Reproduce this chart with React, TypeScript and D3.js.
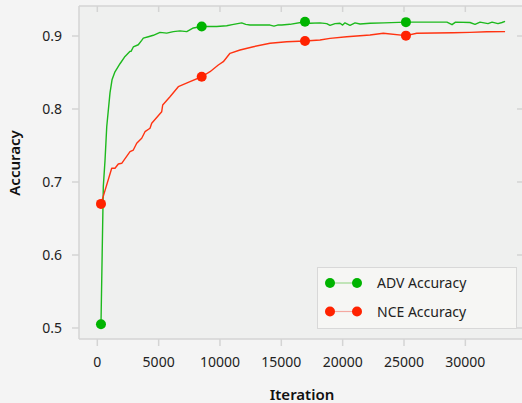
import React from "react";
import * as d3 from "d3";

const advIter = [300, 490, 630, 770, 1035, 1200, 1440, 1850, 2260, 2670, 2750, 2935, 3340, 3620, 3750, 4160, 4570, 5110, 5660, 6200, 6740, 7290, 7830, 8510, 9730, 10550, 11000, 11770, 12100, 12450, 13260, 14080, 14400, 14700, 15030, 15700, 16930, 17340, 18150, 18700, 18970, 19380, 19785, 20000, 20190, 20600, 21010, 21420, 22230, 23370, 25160, 26300, 27940, 28500, 28915, 29200, 30380, 30790, 31200, 31850, 32180, 32660, 32990, 33240];
const advAcc = [0.505, 0.694, 0.73, 0.776, 0.822, 0.84, 0.851, 0.862, 0.872, 0.879, 0.879, 0.885, 0.888, 0.894, 0.897, 0.899, 0.901, 0.905, 0.904, 0.906, 0.907, 0.906, 0.911, 0.913, 0.913, 0.914, 0.9155, 0.918, 0.916, 0.915, 0.915, 0.915, 0.9135, 0.915, 0.915, 0.916, 0.9196, 0.9175, 0.918, 0.917, 0.9145, 0.917, 0.9175, 0.915, 0.918, 0.9145, 0.918, 0.9165, 0.9175, 0.918, 0.919, 0.919, 0.919, 0.919, 0.9155, 0.919, 0.9185, 0.916, 0.919, 0.917, 0.919, 0.917, 0.9185, 0.92];

const nceIter = [300, 1174, 1443, 1712, 1989, 2666, 2935, 3212, 3619, 3889, 4296, 4435, 5250, 5331, 5926, 6603, 7557, 8510, 9187, 9864, 10272, 10818, 11633, 12717, 14078, 15440, 16930, 18154, 18969, 20330, 22230, 23315, 25160, 26040, 29000, 30380, 31750, 33240];
const nceAcc = [0.67, 0.7188, 0.7188, 0.7247, 0.7256, 0.7415, 0.7438, 0.753, 0.7599, 0.7689, 0.7736, 0.7804, 0.7963, 0.8055, 0.8168, 0.8305, 0.8374, 0.8442, 0.8511, 0.8603, 0.8648, 0.8763, 0.8808, 0.8853, 0.89, 0.8922, 0.8932, 0.8945, 0.8968, 0.899, 0.9014, 0.9037, 0.9005, 0.9037, 0.9045, 0.905, 0.9059, 0.906];

const markerIters = [300, 8510, 16930, 25160];
const xTicks = [0, 5000, 10000, 15000, 20000, 25000, 30000];
const yTicks = [0.5, 0.6, 0.7, 0.8, 0.9];

const seriesNames = ["ADV Accuracy", "NCE Accuracy"];
const seriesColors = ["#00b400", "#ff2200"];
const lineColors = ["#1db91d", "#ff3311"];
const legendLineColors = ["#9fd98f", "#f4a8a0"];

const W = 522;
const H = 403;
const L = 79, R = 522, T = 6, B = 339;

export default function App() {
  const x = d3.scaleLinear().domain([-1492, 34620]).range([L, R]);
  const y = d3.scaleLinear().domain([0.4849, 0.9411]).range([B, T]);
  const line = d3.line<[number, number]>().x(d => x(d[0])).y(d => y(d[1]));
  const series = [
    advIter.map((v, i) => [v, advAcc[i]] as [number, number]),
    nceIter.map((v, i) => [v, nceAcc[i]] as [number, number]),
  ];
  const font = "'Noto Sans', 'Open Sans', sans-serif";
  return (
    <svg width={W} height={H} style={{ position: "absolute", left: 0, top: 0, background: "#f4f4f4" }} fontFamily={font}>
      <rect x={0} y={0} width={W} height={H} fill="#f4f4f4" />
      <rect x={L} y={T} width={R - L} height={B - T} fill="#eff0ef" />
      <line x1={L} x2={R} y1={T} y2={T} stroke="#d4d4d4" strokeWidth={1.5} />
      <line x1={L} x2={R} y1={B} y2={B} stroke="#d4d4d4" strokeWidth={1.5} />
      <line x1={L} x2={L} y1={T} y2={B} stroke="#d4d4d4" strokeWidth={1.5} />
      {xTicks.map(t => (
        <g key={"x" + t}>
          <line x1={x(t)} x2={x(t)} y1={T} y2={T + 6} stroke="#d4d4d4" strokeWidth={1.5} />
          <line x1={x(t)} x2={x(t)} y1={B} y2={B + 7} stroke="#d4d4d4" strokeWidth={1.5} />
          <text x={x(t)} y={367} textAnchor="middle" fontSize={14} fill="#222">{t}</text>
        </g>
      ))}
      {yTicks.map(t => (
        <g key={"y" + t}>
          <line x1={L - 7} x2={L} y1={y(t)} y2={y(t)} stroke="#d4d4d4" strokeWidth={1.5} />
          <line x1={R - 5} x2={R} y1={y(t)} y2={y(t)} stroke="#d4d4d4" strokeWidth={1.5} />
          <text x={62} y={y(t) + 5} textAnchor="end" fontSize={14} fill="#222">{t.toFixed(1)}</text>
        </g>
      ))}
      {series.map((s, i) => (
        <path key={"l" + i} d={line(s) || ""} fill="none" stroke={lineColors[i]} strokeWidth={1.4} strokeLinejoin="round" />
      ))}
      {series.map((s, i) =>
        s.filter(d => markerIters.includes(d[0])).map(d => (
          <circle key={"m" + i + d[0]} cx={x(d[0])} cy={y(d[1])} r={5} fill={seriesColors[i]} />
        ))
      )}
      <text x={302} y={400} textAnchor="middle" fontSize={15} fontWeight={600} fill="#111">Iteration</text>
      <text transform="translate(20,163) rotate(-90)" textAnchor="middle" fontSize={15} fontWeight={600} fill="#111">Accuracy</text>
      <rect x={317.5} y={267.5} width={199} height={61} fill="#f6f6f4" stroke="#d8d8d8" strokeWidth={1} />
      {seriesNames.map((n, i) => {
        const cy = 283 + i * 28.5;
        return (
          <g key={"lg" + i}>
            <line x1={330} x2={357} y1={cy} y2={cy} stroke={legendLineColors[i]} strokeWidth={1.2} />
            <circle cx={330} cy={cy} r={5} fill={seriesColors[i]} />
            <circle cx={357} cy={cy} r={5} fill={seriesColors[i]} />
            <text x={377} y={cy + 5} fontSize={14} fill="#222">{n}</text>
          </g>
        );
      })}
    </svg>
  );
}
